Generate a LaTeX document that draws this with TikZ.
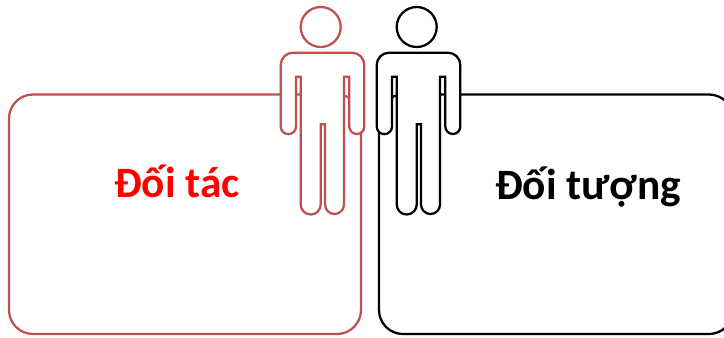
\documentclass[tikz,border=0pt]{standalone}
\usepackage{fontspec}
\setmainfont{Carlito}
\definecolor{partnerline}{RGB}{192,80,77}
\tikzset{every picture/.style={line width=1.7pt}}
\tikzset{
  person/.pic={
    \draw [fill=white] (320.7,27) circle [radius=20];
    \draw [fill=white] (293,52.7) -- (352,52.7) arc (270:360:12.3) -- (364.3,126.5) arc (0:180:7.5)
      -- (349.3,76.7) -- (344,76.7) -- (344,204.5) arc (0:180:9.5) -- (325,124.3) -- (320.7,124.3)
      -- (320.7,204.5) arc (0:180:10) -- (300.7,76.7) -- (296,76.7) -- (296,126.5) arc (0:180:7.65)
      -- (280.7,65) arc (180:270:12.3) -- cycle;
  },
  bigtext/.style={font=\fontsize{32.5}{36}\selectfont\bfseries,inner sep=0pt,anchor=base},
}
\begin{document}
\begin{tikzpicture}[x=0.75pt,y=0.75pt,yscale=-1,xscale=1]
\useasboundingbox (0,0) rectangle (724,337);

%Rounded boxes
\draw [color=partnerline, rounded corners=18pt] (9,94.5) rectangle (361,334);
\draw [rounded corners=18pt] (379,94.5) rectangle (733,334);

%Figures
\pic [color=partnerline, transform shape] (partner) at (0,0) {person};
\pic [transform shape] (subject) at (96,0) {person};

% Text Node
\node (partnerlabel) [bigtext, text=red] at (177,197) {Đối tác};
% Text Node
\node (subjectlabel) [bigtext] at (588,199.5) {Đối tượng};

\end{tikzpicture}
\end{document}
